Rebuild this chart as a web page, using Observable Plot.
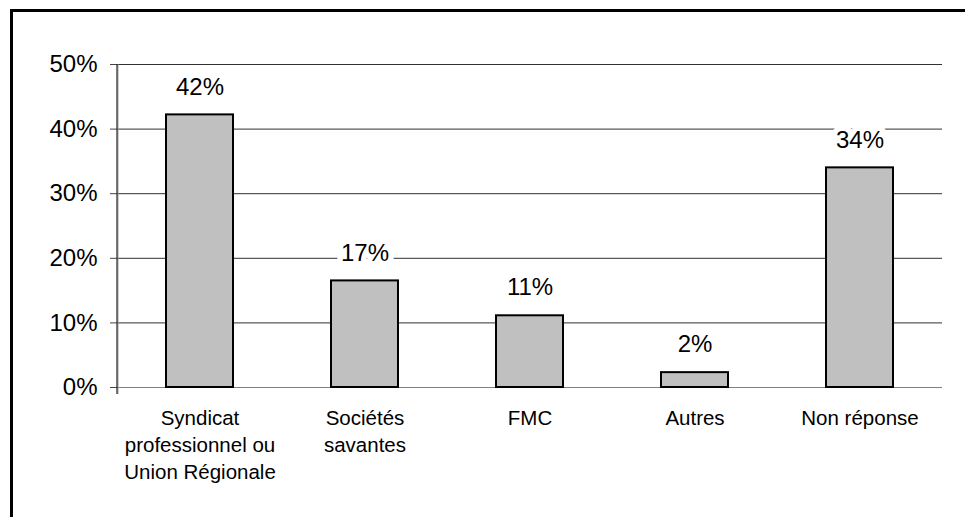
<!DOCTYPE html>
<html>
<head>
<meta charset="utf-8">
<script src="https://cdn.jsdelivr.net/npm/d3@7"></script>
<script src="https://cdn.jsdelivr.net/npm/@observablehq/plot@0.6"></script>
<style>
  html, body { margin: 0; padding: 0; background: #fff; }
  #wrap { position: relative; width: 965px; height: 517px; overflow: hidden; font-family: "Liberation Sans", Arial, sans-serif; }
  #border { position: absolute; left: 10px; top: 9px; right: -10px; bottom: -10px; border-left: 3px solid #000; border-top: 3px solid #000; pointer-events: none; }
  svg { display: block; }
</style>
</head>
<body>
<div id="wrap"><div id="border"></div></div>
<script>
const categories = ["Syndicat\nprofessionnel ou\nUnion Régionale", "Sociétés\nsavantes", "FMC", "Autres", "Non réponse"];
const values = [0.422, 0.165, 0.111, 0.023, 0.340];
const valueLabels = ["42%", "17%", "11%", "2%", "34%"];
const yTicks = [0, 0.1, 0.2, 0.3, 0.4, 0.5];

const data = categories.map((c, i) => ({cat: c, v: values[i], label: valueLabels[i]}));

const yAxisLine = (index, scales, vals, dims) => {
  const g = d3.create("svg:g");
  g.append("line")
    .attr("x1", dims.marginLeft + 1).attr("x2", dims.marginLeft + 1)
    .attr("y1", dims.marginTop).attr("y2", dims.height - dims.marginBottom + 7)
    .attr("stroke", "#a0a0a0").attr("stroke-width", 1);
  g.append("line")
    .attr("x1", dims.marginLeft).attr("x2", dims.marginLeft)
    .attr("y1", dims.marginTop).attr("y2", dims.height - dims.marginBottom + 7)
    .attr("stroke", "#222").attr("stroke-width", 1.2);
  return g.node();
};

const chart = Plot.plot({
  width: 965,
  height: 517,
  marginLeft: 117,
  marginRight: 23,
  marginTop: 64,
  marginBottom: 130,
  style: {fontFamily: "'Liberation Sans', Arial, sans-serif", background: "transparent", overflow: "visible"},
  x: {domain: categories, paddingInner: 0.594, paddingOuter: 0.297},
  y: {domain: [0, 0.5]},
  marks: [
    Plot.gridY(yTicks, {stroke: "#303030", strokeOpacity: 1, strokeWidth: 1}),
    Plot.ruleY([0], {stroke: "#808080", strokeWidth: 1.2}),
    Plot.axisY(yTicks, {tickSize: 7, tickPadding: 13, tickFormat: d3.format(".0%"), fontSize: 24, stroke: "#444", label: null, color: "#000"}),
    yAxisLine,
    Plot.axisX({tickSize: 0, tickPadding: 19, fontSize: 20.5, lineHeight: 1.3, label: null, color: "#000"}),
    Plot.barY(data, {x: "cat", y: "v", fill: "#c0c0c0", stroke: "#000", strokeWidth: 2}),
    Plot.text(data, {x: "cat", y: "v", text: "label", dy: -28, fontSize: 24, fill: "#000", stroke: "white", strokeWidth: 11, paintOrder: "stroke"})
  ]
});
document.getElementById("wrap").insertBefore(chart, document.getElementById("border"));
</script>
</body>
</html>
